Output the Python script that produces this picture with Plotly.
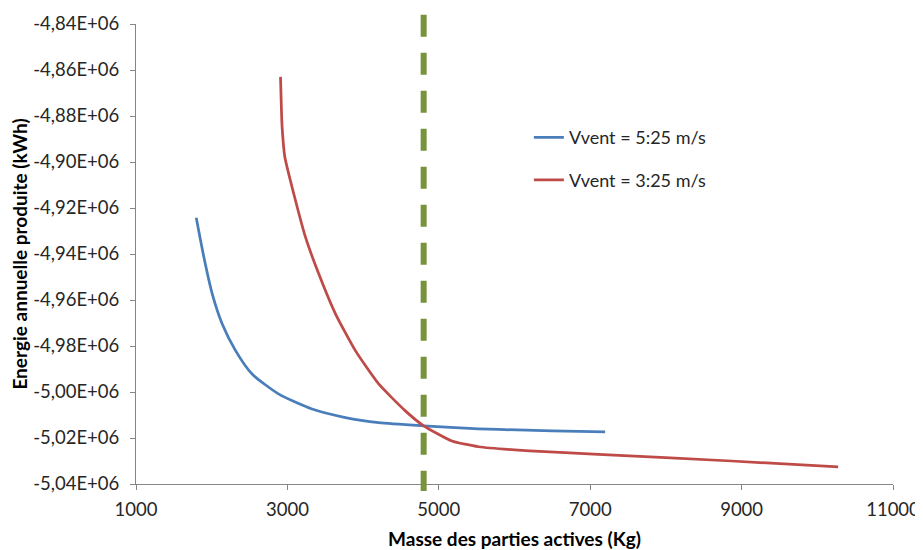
import plotly.graph_objects as go

# Data
blue_x = [1796, 1897, 2007, 2139, 2315, 2534, 2887, 3326, 3767, 4206, 4800, 5525, 5789, 6500, 7197]
blue_y = [-4.9242e6, -4.9414e6, -4.9573e6, -4.9704e6, -4.9820e6, -4.9922e6, -5.0009e6, -5.0074e6,
          -5.0111e6, -5.0133e6, -5.0147e6, -5.0160e6, -5.0163e6, -5.0169e6, -5.0173e6]

red_x = [2909, 2920, 2930, 2966, 3084, 3239, 3414, 3635, 3898, 4206, 4558, 4800, 5173, 5525, 6200, 7108, 8867, 10275]
red_y = [-4.8630e6, -4.8760e6, -4.8847e6, -4.8978e6, -4.9138e6, -4.9327e6, -4.9486e6, -4.9660e6,
         -4.9820e6, -4.9965e6, -5.0082e6, -5.0147e6, -5.0213e6, -5.0238e6, -5.0256e6, -5.0271e6,
         -5.0300e6, -5.0326e6]

optimum_x = 4800

y_tickvals = [-4.84e6, -4.86e6, -4.88e6, -4.90e6, -4.92e6, -4.94e6, -4.96e6, -4.98e6,
              -5.00e6, -5.02e6, -5.04e6]
y_ticktext = ["-4,84E+06", "-4,86E+06", "-4,88E+06", "-4,90E+06", "-4,92E+06", "-4,94E+06",
              "-4,96E+06", "-4,98E+06", "-5,00E+06", "-5,02E+06", "-5,04E+06"]
x_tickvals = [1000, 3000, 5000, 7000, 9000, 11000]

font_family = "Lato, 'Open Sans', sans-serif"
text_color = "#262626"

fig = go.Figure()
fig.add_trace(go.Scatter(x=blue_x, y=blue_y, mode="lines", name="Vvent = 5:25 m/s", legendgroup="a",
                         line=dict(color="#4A7EBB", width=2.75, shape="spline", smoothing=0.6)))
fig.add_trace(go.Scatter(x=red_x, y=red_y, mode="lines", name="Vvent = 3:25 m/s", legendgroup="b",
                         line=dict(color="#BE4B48", width=2.75, shape="spline", smoothing=0.5)))

fig.add_shape(type="line", xref="x", yref="paper", x0=optimum_x, x1=optimum_x, y0=1.02, y1=-0.015,
              line=dict(color="#77933C", width=6, dash="22px,16px"))

# page body has an 8px margin, so the figure is sized/margined to compensate
fig.update_layout(
    width=915, height=542,
    paper_bgcolor="white", plot_bgcolor="white",
    margin=dict(l=128, r=30, t=16, b=66),
    font=dict(family=font_family, size=18.5, color=text_color),
    showlegend=True,
    legend=dict(x=0.519, y=0.793, xanchor="left", yanchor="top", bgcolor="rgba(0,0,0,0)",
                font=dict(size=18), tracegroupgap=16, itemwidth=30),
    xaxis=dict(range=[1000, 11000], tickvals=x_tickvals, ticktext=[str(v) for v in x_tickvals],
               showgrid=False, zeroline=False, showline=True, linecolor="#868686", linewidth=1,
               ticks="outside", tickcolor="#868686", ticklen=5, automargin=False,
               ticklabelstandoff=4,
               title=dict(text="<b>Masse des parties actives (Kg)</b>", font=dict(size=19, color="#000000"), standoff=13)),
    yaxis=dict(range=[-5.04e6, -4.84e6], tickvals=y_tickvals, ticktext=y_ticktext,
               showgrid=False, zeroline=False, showline=True, linecolor="#868686", linewidth=1,
               ticks="outside", tickcolor="#868686", ticklen=5, automargin=False,
               ticklabelstandoff=7,
               title=dict(text="<b>Energie annuelle produite (kWh)</b>", font=dict(size=19, color="#000000"), standoff=0)),
)

fig.write_html("out.html")
